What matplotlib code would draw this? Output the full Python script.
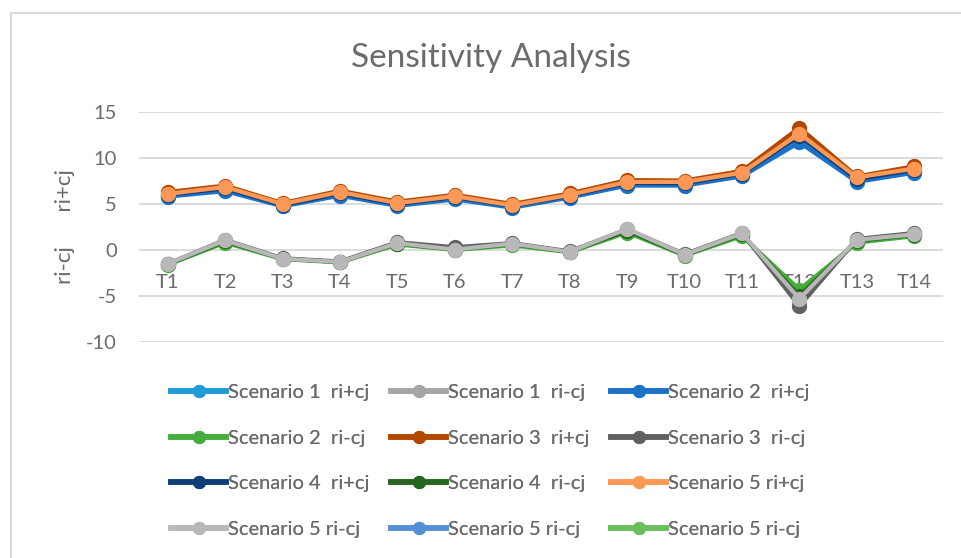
import matplotlib.pyplot as plt
from matplotlib.lines import Line2D

plt.rcParams['font.family'] = ['Lato', 'DejaVu Sans']
plt.rcParams['axes.unicode_minus'] = False

# categories
periods = ['T1', 'T2', 'T3', 'T4', 'T5', 'T6', 'T7', 'T8', 'T9', 'T10', 'T11', 'T12', 'T13', 'T14']

# ri+cj per scenario
s1_plus = [5.9, 6.5, 4.8, 6.0, 4.9, 5.6, 4.7, 5.8, 7.1, 7.1, 8.1, 12.0, 7.5, 8.5]
s2_plus = [5.8, 6.4, 4.75, 5.9, 4.8, 5.5, 4.6, 5.7, 7.0, 7.0, 8.0, 11.7, 7.4, 8.4]
s3_plus = [6.3, 7.0, 5.1, 6.45, 5.25, 6.0, 5.0, 6.15, 7.6, 7.55, 8.6, 13.3, 8.0, 9.1]
s4_plus = [6.0, 6.7, 4.9, 6.15, 5.0, 5.75, 4.8, 5.9, 7.3, 7.25, 8.3, 12.4, 7.7, 8.7]
s5_plus = [6.1, 6.85, 5.0, 6.3, 5.1, 5.85, 4.85, 6.0, 7.4, 7.4, 8.4, 12.65, 7.9, 8.85]

# ri-cj per scenario
s1_minus = [-1.55, 1.0, -0.95, -1.3, 0.7, 0.1, 0.65, -0.2, 2.2, -0.5, 1.75, -5.7, 1.05, 1.7]
s2_minus = [-1.6, 0.8, -1.0, -1.35, 0.6, 0.0, 0.5, -0.25, 1.9, -0.6, 1.5, -4.3, 0.8, 1.5]
s3_minus = [-1.5, 1.1, -0.9, -1.25, 0.85, 0.3, 0.75, -0.15, 2.25, -0.45, 1.85, -6.1, 1.2, 1.85]
s4_minus = [-1.55, 0.95, -0.95, -1.3, 0.7, 0.05, 0.65, -0.2, 2.1, -0.55, 1.7, -5.0, 1.0, 1.65]
s5_minus = [-1.5, 1.05, -0.95, -1.3, 0.75, 0.05, 0.7, -0.2, 2.3, -0.5, 1.8, -5.3, 1.1, 1.7]
s5_extra_a = []  # listed in legend only
s5_extra_b = []

series = [
    ('Scenario 1  ri+cj', s1_plus, '#1f9bd7'),
    ('Scenario 1  ri-cj', s1_minus, '#a5a5a5'),
    ('Scenario 2  ri+cj', s2_plus, '#1b72c8'),
    ('Scenario 2  ri-cj', s2_minus, '#44ad3c'),
    ('Scenario 3  ri+cj', s3_plus, '#b34700'),
    ('Scenario 3  ri-cj', s3_minus, '#616161'),
    ('Scenario 4  ri+cj', s4_plus, '#0f3f78'),
    ('Scenario 4  ri-cj', s4_minus, '#26661f'),
    ('Scenario 5 ri+cj', s5_plus, '#fd9856'),
    ('Scenario 5 ri-cj', s5_minus, '#b8b8b8'),
    ('Scenario 5 ri-cj', s5_extra_a, '#5590d6'),
    ('Scenario 5 ri-cj', s5_extra_b, '#6abf5c'),
]

txt = '#6b6b6b'
fig = plt.figure(figsize=(9.61, 5.58), dpi=100)
ax = fig.add_axes([139 / 961, 1 - 342 / 558, 804 / 961, 230 / 558])

x = list(range(len(periods)))
for i, (name, vals, col) in enumerate(series):
    if vals:
        ax.plot(x[:len(vals)], vals, color=col, lw=3.0, marker='o', ms=10,
                mec=col, mfc=col, zorder=3 + i)

ax.set_xlim(-0.5, len(periods) - 0.5)
ax.set_ylim(-10, 15)
ax.set_yticks([-10, -5, 0, 5, 10, 15])
ax.set_xticks(x)
ax.set_xticklabels(periods)
ax.grid(axis='y', color='#d9d9d9', lw=1.3)
ax.set_axisbelow(True)
for s in ['top', 'right', 'left']:
    ax.spines[s].set_visible(False)
ax.spines['bottom'].set_position(('data', 0))
ax.spines['bottom'].set_visible(False)
ax.tick_params(axis='both', length=0, colors=txt, labelsize=14.5)
ax.tick_params(axis='x', pad=17)
ax.tick_params(axis='y', pad=16)

ax.set_ylabel('ri-cj      ri+cj', fontsize=16, color=txt)
ax.yaxis.set_label_coords(-0.079, 0.5)

fig.text(0.511, 1 - 58 / 558, 'Sensitivity Analysis', ha='center', va='center',
         fontsize=24, color=txt)

# chart area border (top and left only visible)
fig.add_artist(Line2D([11 / 961, 1.0], [1 - 13 / 558, 1 - 13 / 558], color='#d9d9d9', lw=1.5))
fig.add_artist(Line2D([11 / 961, 11 / 961], [0, 1 - 13 / 558], color='#d9d9d9', lw=1.5))

# legend laid out row by row in three columns, like the original
handles = [Line2D([], [], color=c, lw=4, marker='o', ms=8.5, mec=c, mfc=c)
           for _, _, c in series]
labels = [n for n, _, _ in series]
col_x = [171, 391, 611]
for c in range(3):
    idx = [c, c + 3, c + 6, c + 9]
    lg = fig.legend([handles[k] for k in idx], [labels[k] for k in idx],
                    loc='upper left', bbox_to_anchor=(col_x[c] / 961, 1 - 384 / 558),
                    frameon=False, fontsize=14.5, handlelength=2.75, handletextpad=0.1,
                    labelspacing=1.42, labelcolor=txt, borderaxespad=0, borderpad=0)
    fig.add_artist(lg)

fig.savefig('out.png', dpi=100)
